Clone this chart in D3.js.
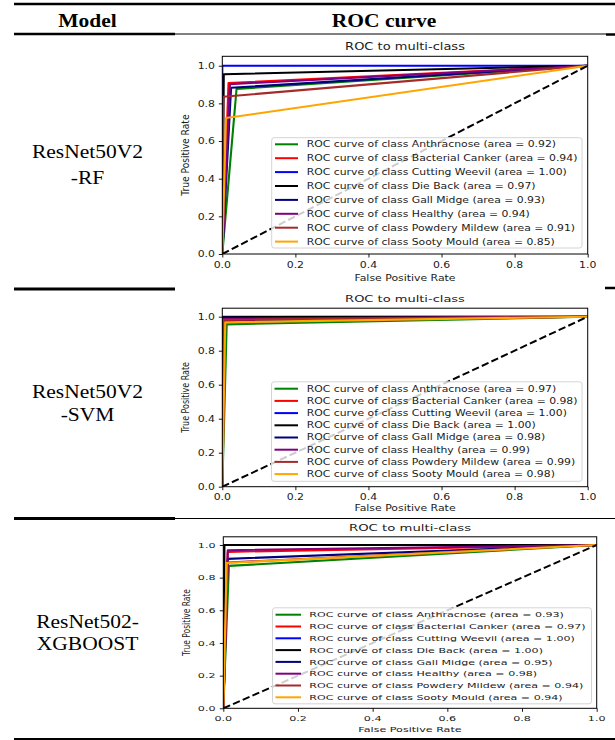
<!DOCTYPE html>
<html><head><meta charset="utf-8">
<script src="https://cdn.jsdelivr.net/npm/d3@7"></script>
<style>html,body{margin:0;padding:0;background:#fff;} svg{display:block;}</style>
</head><body><svg id="c" width="615" height="740"></svg>
<script>
// ---------------- data ----------------
const classes = ["Anthracnose","Bacterial Canker","Cutting Weevil","Die Back","Gall Midge","Healthy","Powdery Mildew","Sooty Mould"];
const classColors = ["#008000","#ff0000","#0000ff","#000000","#000080","#800080","#a52a2a","#ffa500"];
const modelNames = [["ResNet50V2","-RF"],["ResNet50V2","-SVM"],["ResNet502-","XGBOOST"]];
const headerLabels = ["Model","ROC curve"];
// operating point (FPR, TPR) of each class curve; curve = (0,0) -> point -> (1,1)
const rfFpr  = [0.039,0.017,0.000,0.004,0.024,0.021,0.003,0.010];
const rfTpr  = [0.877,0.908,1.000,0.955,0.883,0.902,0.835,0.722];
const rfAuc  = ["0.92","0.94","1.00","0.97","0.93","0.94","0.91","0.85"];
const svmFpr = [0.012,0.008,0.000,0.000,0.006,0.004,0.003,0.008];
const svmTpr = [0.955,0.975,1.000,0.997,0.970,0.988,0.982,0.967];
const svmAuc = ["0.97","0.98","1.00","1.00","0.98","0.99","0.99","0.98"];
const xgbFpr = [0.015,0.012,0.000,0.003,0.012,0.012,0.012,0.009];
const xgbTpr = [0.872,0.958,1.000,1.000,0.915,0.968,0.893,0.890];
const xgbAuc = ["0.93","0.97","1.00","1.00","0.95","0.98","0.94","0.94"];
const tickValues = [0,0.2,0.4,0.6,0.8,1.0];
const tickLabels = ["0.0","0.2","0.4","0.6","0.8","1.0"];
const chartTitle = "ROC to multi-class";
const xLabel = "False Positive Rate";
const yLabel = "True Positive Rate";

// ---------------- layout ----------------
const panels = [
  {fpr:rfFpr, tpr:rfTpr, auc:rfAuc, x0:222.3, x1:587.7, yTop:56.3, yBot:254, sx:1, sy:0.84,
   titleY:46.7, xtickY:265, xlabY:277.7, ylabX:185.5, ytickX:215,
   leg:{x:271.7, y:137.7, w:310.3, h:110.3, first:144.3, step:13.9, h0:275, h1:298, tx:306.7}},
  {fpr:svmFpr, tpr:svmTpr, auc:svmAuc, x0:222.3, x1:587.7, yTop:308.2, yBot:486.7, sx:1, sy:0.73,
   titleY:299, xtickY:496.7, xlabY:508.5, ylabX:185.5, ytickX:215,
   leg:{x:271.5, y:381.8, w:310.5, h:99.5, first:388.7, step:12.2, h0:274.5, h1:298, tx:306.7}},
  {fpr:xgbFpr, tpr:xgbTpr, auc:xgbAuc, x0:223.3, x1:596.7, yTop:536.8, yBot:708.3, sx:1.02, sy:0.69,
   titleY:528.3, xtickY:718, xlabY:729, ylabX:185.5, ytickX:215.5,
   leg:{x:272.5, y:607.8, w:319, h:96, first:614.7, step:11.8, h0:275.5, h1:301, tx:309.3}}
];

const svg = d3.select("#c");
const plotFont = "'DejaVu Sans', sans-serif";
const tableFont = "'Liberation Serif', 'Times New Roman', serif";

function txt(parent, x, y, s, o) {
  o = o || {};
  let tr = `translate(${x},${y}) scale(${o.sx||1},${o.sy||1})`;
  if (o.rot) tr += ` rotate(${o.rot})`;
  return parent.append("text")
    .attr("transform", tr)
    .attr("text-anchor", o.anchor || "middle")
    .attr("dominant-baseline", "central")
    .attr("font-family", o.family || plotFont)
    .attr("font-size", o.size || 10.9)
    .attr("font-weight", o.weight || "normal")
    .attr("fill", o.fill || "#1a1a1a")
    .text(s);
}

// ---------------- table ----------------
const tg = svg.append("g");
function hline(y, xa, xb, w) {
  tg.append("line").attr("x1", xa).attr("x2", xb).attr("y1", y).attr("y2", y)
    .attr("stroke", "#000").attr("stroke-width", w);
}
const tsy = 0.88, tsize = 21.5;
txt(tg, 87.5, 20.5, headerLabels[0], {family:tableFont, size:tsize, weight:"bold", sy:tsy, fill:"#000"});
txt(tg, 384, 20.5, headerLabels[1], {family:tableFont, size:tsize, weight:"bold", sy:tsy, fill:"#000"});
const rowLabelY = [[151,177.5],[391,414.5],[621,643.5]];
modelNames.forEach((m, i) => {
  m.forEach((line, j) => txt(tg, 87.5, rowLabelY[i][j], line, {family:tableFont, size:tsize, sy:tsy, fill:"#000"}));
});

// ---------------- panels ----------------
panels.forEach((p, pi) => {
  const g = svg.append("g");
  const x = d3.scaleLinear().domain([0, 1]).range([p.x0, p.x1]);
  const y = d3.scaleLinear().domain([0, 1.05]).range([p.yBot, p.yTop]);
  const clipId = "clip" + pi;
  g.append("clipPath").attr("id", clipId).append("rect")
    .attr("x", p.x0).attr("y", p.yTop).attr("width", p.x1 - p.x0).attr("height", p.yBot - p.yTop);

  // curves
  const line = d3.line().x(d => x(d[0])).y(d => y(d[1]));
  const cg = g.append("g").attr("clip-path", `url(#${clipId})`);
  classes.forEach((c, i) => {
    const pts = [[0, 0], [p.fpr[i], p.tpr[i]], [1, 1]];
    cg.append("path").datum(pts).attr("d", line)
      .attr("fill", "none").attr("stroke", classColors[i]).attr("stroke-width", 2.1)
      .attr("stroke-linejoin", "round");
  });
  // chance diagonal
  cg.append("path").datum([[0, 0], [1, 1]]).attr("d", line)
    .attr("fill", "none").attr("stroke", "#000").attr("stroke-width", 2)
    .attr("stroke-dasharray", "7.4,3.2");

  // frame
  g.append("rect").attr("x", p.x0).attr("y", p.yTop).attr("width", p.x1 - p.x0).attr("height", p.yBot - p.yTop)
    .attr("fill", "none").attr("stroke", "#000").attr("stroke-width", 1);

  // axes ticks
  const xa = g.append("g").attr("transform", `translate(0,${p.yBot})`)
    .call(d3.axisBottom(x).tickValues(tickValues).tickFormat(() => "").tickSizeInner(3.5).tickSizeOuter(0));
  const ya = g.append("g").attr("transform", `translate(${p.x0},0)`)
    .call(d3.axisLeft(y).tickValues(tickValues).tickFormat(() => "").tickSizeInner(3.5).tickSizeOuter(0));
  [xa, ya].forEach(a => { a.select(".domain").remove(); a.selectAll("line").attr("stroke", "#000").attr("stroke-width", 0.9); });

  tickValues.forEach((v, i) => {
    txt(g, x(v), p.xtickY, tickLabels[i], {sx:p.sx, sy:p.sy});
    txt(g, p.ytickX, y(v), tickLabels[i], {sx:p.sx, sy:p.sy, anchor:"end"});
  });
  txt(g, (p.x0 + p.x1) / 2, p.xlabY, xLabel, {sx:p.sx, sy:p.sy});
  txt(g, p.ylabX, (p.yTop + p.yBot) / 2, yLabel, {sx:p.sx, sy:p.sy, rot:-90});
  txt(g, (p.x0 + p.x1) / 2, p.titleY, chartTitle, {sx:p.sx, sy:p.sy, size:13});

  // legend
  const L = p.leg;
  const lg = g.append("g");
  lg.append("rect").attr("x", L.x).attr("y", L.y).attr("width", L.w).attr("height", L.h)
    .attr("rx", 2.5).attr("fill", "#fff").attr("fill-opacity", 0.8)
    .attr("stroke", "#d4d4d4").attr("stroke-width", 1);
  classes.forEach((c, i) => {
    const yy = L.first + i * L.step;
    lg.append("line").attr("x1", L.h0).attr("x2", L.h1).attr("y1", yy).attr("y2", yy)
      .attr("stroke", classColors[i]).attr("stroke-width", 2);
    txt(lg, L.tx, yy, `ROC curve of class ${c} (area = ${p.auc[i]})`, {sx:p.sx, sy:p.sy, anchor:"start", size:10.85});
  });
});

// table rules drawn last (outside plot images)
hline(4, 14, 615, 2.5);
hline(34, 14, 175, 2.5); hline(34, 175, 606, 1); hline(34.5, 606, 615, 2.5);
hline(289, 14, 175, 2.8); hline(288, 605, 615, 2.5);
hline(518.5, 14, 175, 2.8); hline(518.5, 175, 615, 1.2);
hline(739, 14, 615, 2.2);
</script></body></html>
